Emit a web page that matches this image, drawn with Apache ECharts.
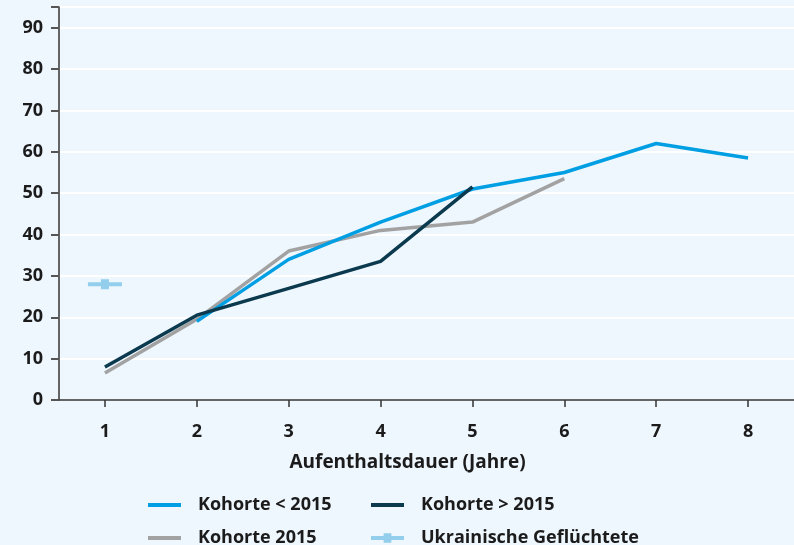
<!DOCTYPE html>
<html>
<head>
<meta charset="utf-8">
<script src="https://cdn.jsdelivr.net/npm/echarts@6/dist/echarts.min.js"></script>
<style>
  html, body { margin: 0; padding: 0; background: #eef6fe; }
  #chart { width: 794px; height: 545px; }
</style>
</head>
<body>
<div id="chart"></div>
<script>
// Jahre nach Ankunft
const years = ['1', '2', '3', '4', '5', '6', '7', '8'];

const kohorteVor2015 = [null, 19, 34, 43, 51, 55, 62, 58.5];
const kohorteNach2015 = [8, 20.5, 27, 33.5, 51.5, null, null, null];
const kohorte2015 = [6.5, 19.5, 36, 41, 43, 53.5, null, null];
const ukraine = [28, null, null, null, null, null, null, null];

const fontFam = '"Open Sans", "Noto Sans", sans-serif';
const textCol = '#1b1b1b';

// kleiner Balken mit Quadrat in der Mitte
const ukraineSymbol = 'path://M0,4 L34,4 L34,8 L0,8 Z M13,1 L21,1 L21,11 L13,11 Z';

const chart = echarts.init(document.getElementById('chart'));

function legendItem(name, left, top, icon, h) {
  return {
    left: left,
    top: top,
    padding: 0,
    itemWidth: 33,
    itemHeight: h,
    icon: icon,
    data: [name],
    textStyle: {
      fontFamily: fontFam,
      fontWeight: 'bold',
      fontSize: 18,
      color: textCol,
      padding: [0, 0, 0, 12],
    },
  };
}

chart.setOption({
  backgroundColor: '#eef6fe',
  animation: false,
  grid: { left: 59, right: -1, top: 7, bottom: 145, containLabel: false },
  legend: [
    legendItem('Kohorte < 2015', 148, 496, 'rect', 4),
    legendItem('Kohorte > 2015', 371, 496, 'rect', 4),
    legendItem('Kohorte 2015', 148, 529, 'rect', 4),
    legendItem('Ukrainische Geflüchtete', 371, 529, ukraineSymbol, 10),
  ],
  xAxis: [
    {
      type: 'category',
      data: years,
      boundaryGap: true,
      name: 'Aufenthaltsdauer (Jahre)',
      nameLocation: 'middle',
      nameGap: 53,
      nameTextStyle: {
        fontFamily: fontFam,
        fontWeight: 'bold',
        fontSize: 19,
        color: textCol,
        padding: [0, 38, 0, 0],
      },
      axisLine: { show: true, lineStyle: { color: '#333', width: 1.5 } },
      axisTick: { show: true, alignWithLabel: true, length: 7, lineStyle: { color: '#333', width: 1.5 } },
      axisLabel: { margin: 23, fontFamily: fontFam, fontWeight: 'bold', fontSize: 18, color: textCol },
      splitLine: { show: false },
    },
    {
      // nur Striche
      type: 'category',
      data: years,
      position: 'bottom',
      boundaryGap: true,
      axisLine: { show: false },
      axisTick: { show: true, alignWithLabel: true, length: 7, lineStyle: { color: '#333', width: 1.5 } },
      axisLabel: { show: false },
      splitLine: { show: false },
    },
  ],
  yAxis: [
    {
      type: 'value',
      min: 0,
      max: 95,
      interval: 10,
      axisLine: { show: true, lineStyle: { color: '#333', width: 1.5 } },
      axisTick: { show: true, length: 8, lineStyle: { color: '#555', width: 2 } },
      axisLabel: { margin: 16, showMaxLabel: false, fontFamily: fontFam, fontWeight: 'bold', fontSize: 18, color: textCol },
      splitLine: { show: true, lineStyle: { color: '#ffffff', width: 2 } },
    },
    {
      // nur Striche
      type: 'value',
      min: 0,
      max: 95,
      interval: 10,
      position: 'left',
      axisLine: { show: false },
      axisTick: { show: true, length: 8, lineStyle: { color: '#555', width: 2 } },
      axisLabel: { show: false },
      splitLine: { show: false },
    },
  ],
  series: [
    { name: 'Kohorte < 2015', type: 'line', data: kohorteVor2015, color: '#009fe3', symbol: 'none', lineStyle: { width: 3.5 }, z: 3 },
    { name: 'Kohorte 2015', type: 'line', data: kohorte2015, color: '#a2a2a2', symbol: 'none', lineStyle: { width: 3.5 }, z: 2 },
    { name: 'Kohorte > 2015', type: 'line', data: kohorteNach2015, color: '#0b3a4e', symbol: 'none', lineStyle: { width: 3.5 }, z: 4 },
    { name: 'Ukrainische Geflüchtete', type: 'scatter', data: ukraine, color: '#7cc4e8', symbol: ukraineSymbol, symbolSize: [34, 10], z: 5 },
  ],
});
</script>
</body>
</html>
